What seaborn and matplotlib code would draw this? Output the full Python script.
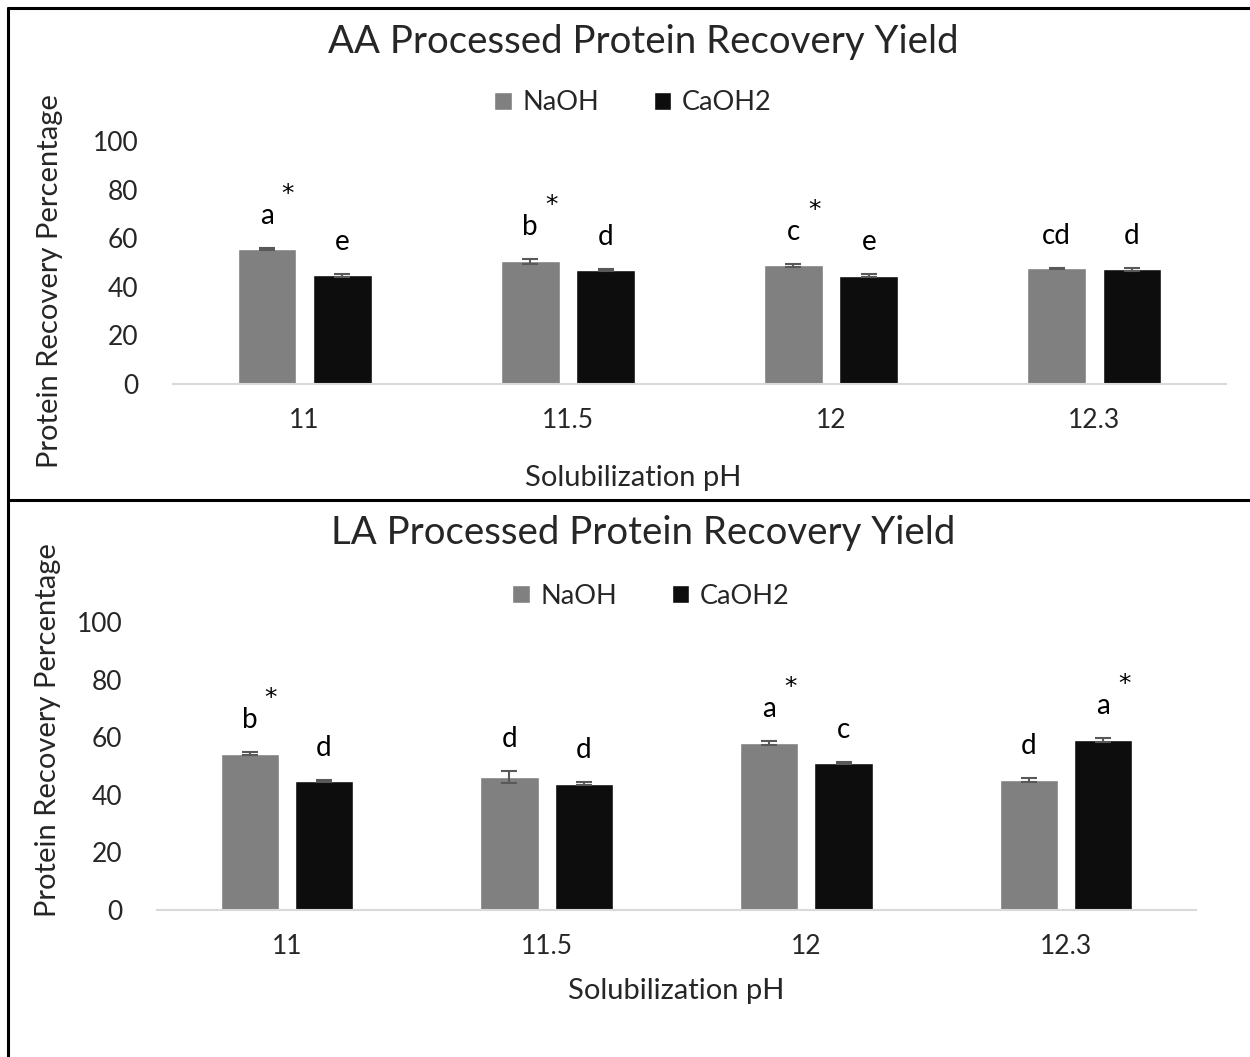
import matplotlib
matplotlib.use("Agg")
import matplotlib.pyplot as plt
import seaborn as sns
import pandas as pd
from matplotlib.lines import Line2D

sns.set_theme(style="white")
plt.rcParams['font.family'] = ['Lato', 'DejaVu Sans']

# ---------------- data ----------------
ph_levels = ["11", "11.5", "12", "12.3"]
solvents = ["NaOH", "CaOH2"]

aa_naoh = [55.7, 50.5, 48.8, 47.6]
aa_caoh = [44.7, 46.9, 44.6, 47.2]
aa_naoh_err = [0.4, 1.1, 0.7, 0.3]
aa_caoh_err = [0.7, 0.4, 0.6, 0.5]
aa_naoh_lbl = ["a", "b", "c", "cd"]
aa_caoh_lbl = ["e", "d", "e", "d"]
aa_naoh_star = [True, True, True, False]
aa_caoh_star = [False, False, False, False]

la_naoh = [54.2, 46.1, 58.0, 45.2]
la_caoh = [44.7, 43.8, 51.0, 58.9]
la_naoh_err = [0.5, 2.0, 0.6, 0.7]
la_caoh_err = [0.3, 0.5, 0.3, 0.7]
la_naoh_lbl = ["b", "d", "a", "d"]
la_caoh_lbl = ["d", "d", "c", "a"]
la_naoh_star = [True, False, True, False]
la_caoh_star = [False, False, False, True]

titles = ["AA Processed Protein Recovery Yield", "LA Processed Protein Recovery Yield"]
xlabel = "Solubilization pH"
ylabel = "Protein Recovery Percentage"
yticks = [0, 20, 40, 60, 80, 100]

colors = {"NaOH": "#808080", "CaOH2": "#0d0d0d"}

W, H = 1250, 1057
fig = plt.figure(figsize=(W / 100, H / 100), dpi=100)


def px_rect(left, right, y0, y100):
    return [left / W, 1 - y0 / H, (right - left) / W, (y0 - y100) / H]


panels = [
    dict(rect=px_rect(173, 1226, 384, 141), data=(aa_naoh, aa_caoh), err=(aa_naoh_err, aa_caoh_err),
         lbl=(aa_naoh_lbl, aa_caoh_lbl), star=(aa_naoh_star, aa_caoh_star),
         title_y=42, legend=(633, 103), xlab=(633, 478), ylab=(50, 281)),
    dict(rect=px_rect(157, 1196, 910, 622), data=(la_naoh, la_caoh), err=(la_naoh_err, la_caoh_err),
         lbl=(la_naoh_lbl, la_caoh_lbl), star=(la_naoh_star, la_caoh_star),
         title_y=533, legend=(651, 596), xlab=(676, 991), ylab=(48, 730)),
]

for i, p in enumerate(panels):
    ax = fig.add_axes(p["rect"])
    df = pd.DataFrame({
        "pH": ph_levels * 2,
        "Solvent": ["NaOH"] * 4 + ["CaOH2"] * 4,
        "value": list(p["data"][0]) + list(p["data"][1]),
    })
    sns.barplot(data=df, x="pH", y="value", hue="Solvent", order=ph_levels,
                hue_order=solvents, palette=colors, width=0.572, gap=0.217,
                errorbar=None, ax=ax, legend=True, saturation=1)
    ax.set_xlim(-0.5, 3.5)
    ax.set_ylim(0, 100)
    ax.set_yticks(yticks)
    ax.set_yticklabels([str(t) for t in yticks], fontsize=19)
    ax.tick_params(axis="y", length=0, pad=25)
    ax.tick_params(axis="x", length=0, pad=17, labelsize=19)
    for s in ["top", "right", "left"]:
        ax.spines[s].set_visible(False)
    ax.spines["bottom"].set_color("#d9d9d9")
    ax.spines["bottom"].set_linewidth(1.5)
    ax.set_xlabel("")
    ax.set_ylabel("")
    ax.grid(False)

    # error bars and labels
    bar_containers = list(ax.containers)
    for k, cont in enumerate(bar_containers):
        errs = p["err"][k]
        for j, bar in enumerate(cont):
            cx = bar.get_x() + bar.get_width() / 2
            top = bar.get_height()
            ax.errorbar(cx, top, yerr=errs[j], fmt="none", ecolor="#595959",
                        elinewidth=1.5, capsize=6, capthick=1.5)
            ax.annotate(p["lbl"][k][j], xy=(cx, top + errs[j]), xytext=(0, 32),
                        textcoords="offset pixels", ha="center", va="center",
                        fontsize=20, color="black")
            if p["star"][k][j]:
                ax.annotate("*", xy=(cx, top + errs[j]), xytext=(21, 54),
                            textcoords="offset pixels", ha="center", va="center",
                            fontsize=18, color="black", family="DejaVu Sans")

    handles, labels = ax.get_legend_handles_labels()
    ax.get_legend().remove()
    fig.legend(handles, labels, loc="center", bbox_to_anchor=(p["legend"][0] / W, 1 - p["legend"][1] / H),
               ncol=2, frameon=False, fontsize=19.5, handlelength=0.65, handleheight=0.65,
               handletextpad=0.4, columnspacing=2.0)

    fig.text(643 / W, 1 - p["title_y"] / H, titles[i], ha="center", va="center", fontsize=27.6)
    fig.text(p["xlab"][0] / W, 1 - p["xlab"][1] / H, xlabel, ha="center", va="center", fontsize=21)
    fig.text(p["ylab"][0] / W, 1 - p["ylab"][1] / H, ylabel, ha="center", va="center",
             fontsize=21, rotation=90)

# frame lines (top, left, divider)
lw = 2.2
fig.add_artist(Line2D([8 / W, 1], [1 - 8 / H, 1 - 8 / H], color="black", lw=lw))
fig.add_artist(Line2D([8 / W, 8 / W], [0, 1 - 8 / H], color="black", lw=lw))
fig.add_artist(Line2D([8 / W, 1], [1 - 500 / H, 1 - 500 / H], color="black", lw=lw))

fig.savefig("out.png", dpi=100, facecolor="white")
